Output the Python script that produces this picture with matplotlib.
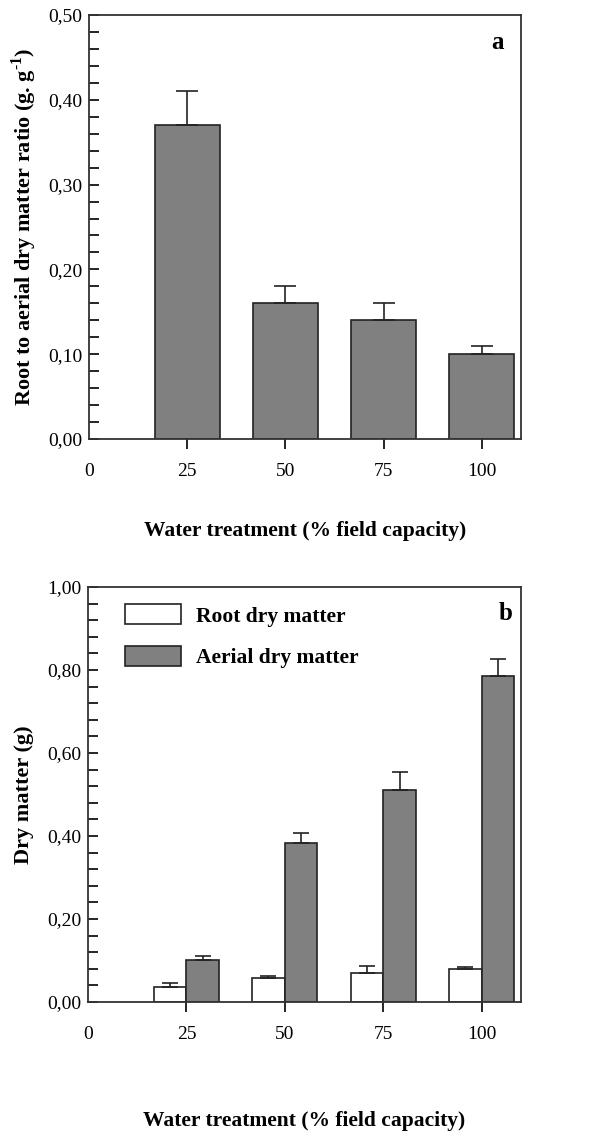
import matplotlib
matplotlib.use("Agg")
import matplotlib.pyplot as plt
from matplotlib.ticker import MultipleLocator, FuncFormatter
import numpy as np

# data
water = [25, 50, 75, 100]
ratio = [0.37, 0.16, 0.14, 0.10]
ratio_err = [0.04, 0.02, 0.02, 0.01]
root_dm = [0.037, 0.059, 0.069, 0.079]
root_err = [0.008, 0.004, 0.018, 0.005]
aerial_dm = [0.101, 0.382, 0.511, 0.786]
aerial_err = [0.011, 0.026, 0.043, 0.041]

plt.rcParams['font.family'] = ['Liberation Serif', 'DejaVu Serif']
plt.rcParams['mathtext.fontset'] = 'custom'
plt.rcParams['mathtext.rm'] = 'Liberation Serif:bold'
plt.rcParams['mathtext.bf'] = 'Liberation Serif:bold'

gray = '#808080'
comma = FuncFormatter(lambda v, p: f"{v:.2f}".replace('.', ','))

fig = plt.figure(figsize=(5.89, 11.4), dpi=100)
W, H = 589, 1140
ax1 = fig.add_axes([89 / W, 1 - 439 / H, 432 / W, 424 / H])
ax2 = fig.add_axes([88 / W, 1 - 1002 / H, 433 / W, 415 / H])


def style(ax, ymax, minor, xpad):
    ax.set_xlim(0, 110)
    ax.set_ylim(0, ymax)
    ax.set_xticks([0] + water)
    ax.xaxis.set_major_formatter(FuncFormatter(lambda v, p: f"{int(v)}"))
    ax.yaxis.set_major_locator(MultipleLocator(ymax / 5))
    ax.yaxis.set_minor_locator(MultipleLocator(minor))
    ax.yaxis.set_major_formatter(comma)
    ax.tick_params(axis='x', direction='out', length=7, width=1.2, labelsize=14, pad=10)
    ax.tick_params(axis='y', which='both', direction='in', length=7, width=1.2, labelsize=14)
    ax.tick_params(axis='y', which='major', pad=5)
    ax.xaxis.get_major_ticks()[0].tick1line.set_visible(False)
    for s in ax.spines.values():
        s.set_linewidth(1.3)
        s.set_color('#333333')
    ax.set_xlabel('Water treatment (% field capacity)', fontsize=15.5, fontweight='bold', labelpad=xpad)


# panel a
ax1.bar(water, ratio, width=16.6, color=gray, edgecolor='#222222', linewidth=1.2,
        yerr=[np.zeros(4), ratio_err], error_kw=dict(ecolor='#222222', elinewidth=1.2, capsize=8, capthick=1.2))
style(ax1, 0.5, 0.02, 30)
ax1.set_ylabel(r'Root to aerial dry matter ratio (g. g$^{\text{-1}}$)', fontsize=16, fontweight='bold', labelpad=6)
ax1.text(0.945, 0.935, 'a', transform=ax1.transAxes, fontsize=18, fontweight='bold', ha='center', va='center')

# panel b
w = 8.3
x = np.array(water)
ax2.bar(x - w / 2, root_dm, width=w, color='white', edgecolor='#222222', linewidth=1.2,
        yerr=[np.zeros(4), root_err], error_kw=dict(ecolor='#222222', elinewidth=1.2, capsize=6, capthick=1.2),
        label='Root dry matter')
ax2.bar(x + w / 2, aerial_dm, width=w, color=gray, edgecolor='#222222', linewidth=1.2,
        yerr=[np.zeros(4), aerial_err], error_kw=dict(ecolor='#222222', elinewidth=1.2, capsize=6, capthick=1.2),
        label='Aerial dry matter')
style(ax2, 1.0, 0.04, 49)
ax2.set_ylabel('Dry matter (g)', fontsize=16, fontweight='bold', labelpad=9)
ax2.text(0.965, 0.935, 'b', transform=ax2.transAxes, fontsize=18, fontweight='bold', ha='center', va='center')
ax2.legend(loc='upper left', bbox_to_anchor=(0.04, 1.005), frameon=False,
           prop=dict(weight='bold', size=15.5), handlelength=2.6, handleheight=1.05,
           labelspacing=0.9, handletextpad=0.7)

fig.savefig('out.png', dpi=100)
